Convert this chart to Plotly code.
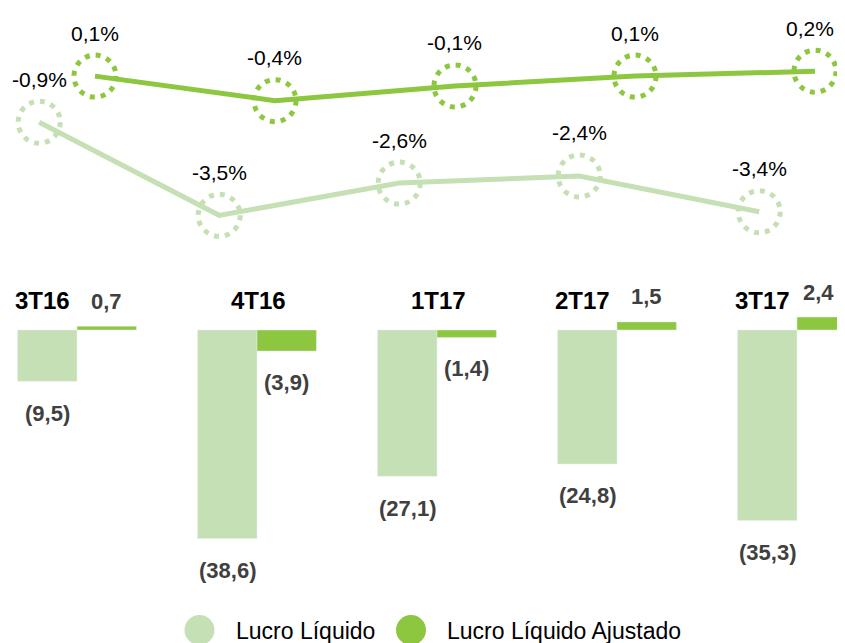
import plotly.graph_objects as go

# ---- data ----
categories = ["3T16", "4T16", "1T17", "2T17", "3T17"]
lucro_liquido = [-9.5, -38.6, -27.1, -24.8, -35.3]
lucro_ajustado = [0.7, -3.9, -1.4, 1.5, 2.4]
margem_liquida = [-0.9, -3.5, -2.6, -2.4, -3.4]
margem_ajustada = [0.1, -0.4, -0.1, 0.1, 0.2]
series_names = ["Lucro Líquido", "Lucro Líquido Ajustado"]

# ---- style ----
LIGHT = "#c5e0b4"
DARK = "#8dc63f"
FONT = "Liberation Sans, Arial, sans-serif"
VAL_COLOR = "#404040"
W, H = 837, 635  # page body adds an 8px margin around the figure
X_LEFT, X_RIGHT = -0.3833, 4.2667
X_VISIBLE = 4.222  # right edge of the visible window

idx = list(range(len(categories)))
bar_off = 0.165
line_off_light = -0.21
line_off_dark = 0.1


def fmt_val(v):
    s = f"{abs(v):.1f}".replace(".", ",")
    return s if v >= 0 else f"({s})"


def fmt_pct(v):
    return f"{v:.1f}%".replace(".", ",")


fig = go.Figure()

# bars
fig.add_trace(go.Bar(x=idx, y=lucro_liquido, marker_color=LIGHT, name=series_names[0],
                     showlegend=False, xaxis="x", yaxis="y"))
fig.add_trace(go.Bar(x=idx, y=lucro_ajustado, marker_color=DARK, name=series_names[1],
                     showlegend=False, xaxis="x", yaxis="y"))

# lines
xl = [i + line_off_light for i in idx]
xd = [i + line_off_dark for i in idx]
fig.add_trace(go.Scatter(x=xl, y=margem_liquida, mode="lines", line=dict(color=LIGHT, width=5),
                         showlegend=False, xaxis="x", yaxis="y2"))
fig.add_trace(go.Scatter(x=xd, y=margem_ajustada, mode="lines", line=dict(color=DARK, width=5),
                         showlegend=False, xaxis="x", yaxis="y3"))

shapes = []
annotations = []
# dotted circles + percent labels
for xs, ys, col, yr in [(xl, margem_liquida, LIGHT, "y2"), (xd, margem_ajustada, DARK, "y3")]:
    for x, y in zip(xs, ys):
        shapes.append(dict(type="circle", xref="x", yref=yr, xsizemode="pixel", ysizemode="pixel",
                           xanchor=x, yanchor=y, x0=-21, x1=21, y0=-21, y1=21,
                           line=dict(color=col, width=5, dash="5px,6px"), fillcolor="rgba(0,0,0,0)"))
        annotations.append(dict(x=min(x, X_VISIBLE - 0.15), y=y, xref="x", yref=yr, text=fmt_pct(y),
                                showarrow=False, yshift=43,
                                font=dict(family=FONT, size=21, color="#000000")))

# bar value labels
for i, v in zip(idx, lucro_liquido):
    annotations.append(dict(x=i - bar_off, y=v, xref="x", yref="y", text=fmt_val(v), showarrow=False,
                            yshift=-32 if v < 0 else 25,
                            font=dict(family=FONT, size=22, color=VAL_COLOR, weight="bold")))
for i, v in zip(idx, lucro_ajustado):
    annotations.append(dict(x=min(i + bar_off, X_VISIBLE - 0.1), y=v, xref="x", yref="y",
                            text=fmt_val(v), showarrow=False,
                            yshift=-31 if v < 0 else 25,
                            font=dict(family=FONT, size=22, color=VAL_COLOR, weight="bold")))

# category labels
for i, c, a in zip(idx, categories, lucro_ajustado):
    annotations.append(dict(x=i, y=0, xref="x", yref="y", text=f"<b>{c}</b>", showarrow=False,
                            yshift=30, xshift=-34 if a >= 0 else 2,
                            font=dict(family=FONT, size=24, color="#000000")))

# legend (large round keys)
legend_items = [(series_names[0], LIGHT, 191.5, 226), (series_names[1], DARK, 403, 437)]
for nm, col, cx, tx in legend_items:
    shapes.append(dict(type="circle", xref="paper", yref="paper", xsizemode="pixel", ysizemode="pixel",
                       xanchor=cx / W, yanchor=1 - 622 / H, x0=-15, x1=15, y0=-15, y1=15,
                       fillcolor=col, line=dict(width=0)))
    annotations.append(dict(x=tx / W, y=1 - 623 / H, xref="paper", yref="paper", text=nm,
                            xanchor="left", yanchor="middle", showarrow=False,
                            font=dict(family=FONT, size=23, color="#000000")))

fig.update_layout(
    width=W, height=H,
    margin=dict(l=0, r=0, t=0, b=0),
    paper_bgcolor="white", plot_bgcolor="white",
    barmode="group", bargap=0.34, bargroupgap=0,
    xaxis=dict(range=[X_LEFT, X_RIGHT], visible=False, anchor="y"),
    yaxis=dict(domain=[0.1150, 0.5559], range=[-44.44, 7.407], visible=False, anchor="x"),
    yaxis2=dict(domain=[0.622, 0.9874], range=[-4.413, 2.067], visible=False, anchor="x"),
    yaxis3=dict(domain=[0.622, 0.9874], range=[-3.401, 1.324], visible=False, anchor="x",
                overlaying="y2"),
    shapes=shapes,
    annotations=annotations,
    showlegend=False,
)

fig.write_html("out.html")
